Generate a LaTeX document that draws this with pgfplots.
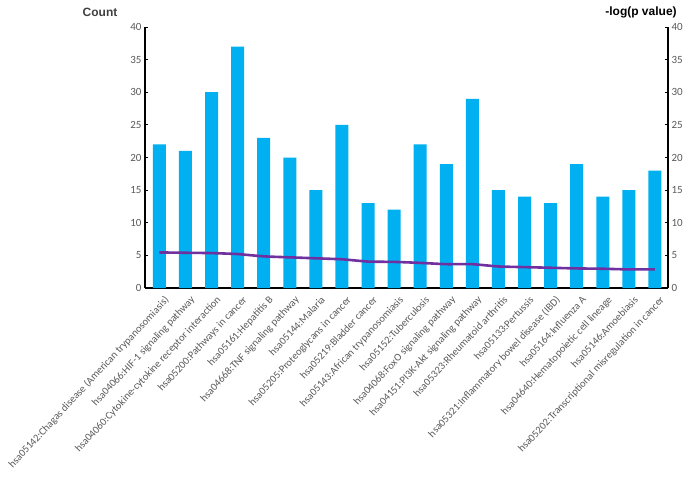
\documentclass[border=0pt]{standalone}
\usepackage{pgfplots}
\pgfplotsset{compat=1.18}
\usepackage{fontspec}
\setmainfont{Carlito}
\newfontfamily\arialf{Liberation Sans}
\definecolor{barblue}{HTML}{00B0F0}
\definecolor{linepurple}{HTML}{7030A0}
\definecolor{txtgray}{HTML}{595959}
\definecolor{titlegray}{HTML}{404040}
\begin{document}
\begin{tikzpicture}[x=1pt,y=1pt]
\path[use as bounding box] (0,0) rectangle (692,479);
\pgfplotsset{
  common/.style={
    at={(145pt,191pt)}, anchor=south west,
    width=523pt, height=261pt, scale only axis,
    xmin=-0.55, xmax=19.5, ymin=0, ymax=40,
    ytick={0,5,...,40},
    /pgf/number format/assume math mode=true,
    tick label style={font=\fontsize{11}{13}\selectfont, text=txtgray},
    major tick length=3pt,
    axis line style={-, black, line width=1.1pt},
    ytick style={black, line width=0.8pt},
    xtick style={draw=none},
  }
}
\begin{axis}[common,
  axis x line*=bottom, axis y line*=left,
  ybar, bar width=13pt,
  xtick={0,...,19},
  xticklabels={
    hsa05142:Chagas disease (American trypanosomiasis),
    hsa04066:HIF-1 signaling pathway,
    hsa04060:Cytokine-cytokine receptor interaction,
    hsa05200:Pathways in cancer,
    hsa05161:Hepatitis B,
    hsa04668:TNF signaling pathway,
    hsa05144:Malaria,
    hsa05205:Proteoglycans in cancer,
    hsa05219:Bladder cancer,
    hsa05143:African trypanosomiasis,
    hsa05152:Tuberculosis,
    hsa04068:FoxO signaling pathway,
    hsa04151:PI3K-Akt signaling pathway,
    hsa05323:Rheumatoid arthritis,
    hsa05133:Pertussis,
    hsa05321:Inflammatory bowel disease (IBD),
    hsa05164:Influenza A,
    hsa04640:Hematopoietic cell lineage,
    hsa05146:Amoebiasis,
    hsa05202:Transcriptional misregulation in cancer},
  x tick label style={rotate=47, anchor=north east, font=\fontsize{10.5}{12}\selectfont, text=txtgray, inner sep=1pt, xshift=1pt, yshift=-5pt},
]
\addplot[fill=barblue, draw=none] coordinates {
(0,22) (1,21) (2,30) (3,37) (4,23) (5,20) (6,15) (7,25) (8,13) (9,12)
(10,22) (11,19) (12,29) (13,15) (14,14) (15,13) (16,19) (17,14) (18,15) (19,18)};
\end{axis}
\begin{axis}[common,
  axis x line=none, axis y line*=right,
  xtick=\empty,
]
\addplot[linepurple, line width=2.6pt, smooth, tension=0.3, mark=none] coordinates {
(0,5.45) (1,5.4) (2,5.35) (3,5.2) (4,4.85) (5,4.7) (6,4.55) (7,4.4) (8,4.05) (9,4.0)
(10,3.85) (11,3.65) (12,3.65) (13,3.3) (14,3.2) (15,3.1) (16,3.0) (17,2.95) (18,2.85) (19,2.85)};
\end{axis}
\node[font=\arialf\bfseries\fontsize{12}{14}\selectfont, text=titlegray] at (100,467) {Count};
\node[font=\arialf\bfseries\fontsize{12}{14}\selectfont, text=black] at (641,467) {-log(p value)};
\end{tikzpicture}
\end{document}
